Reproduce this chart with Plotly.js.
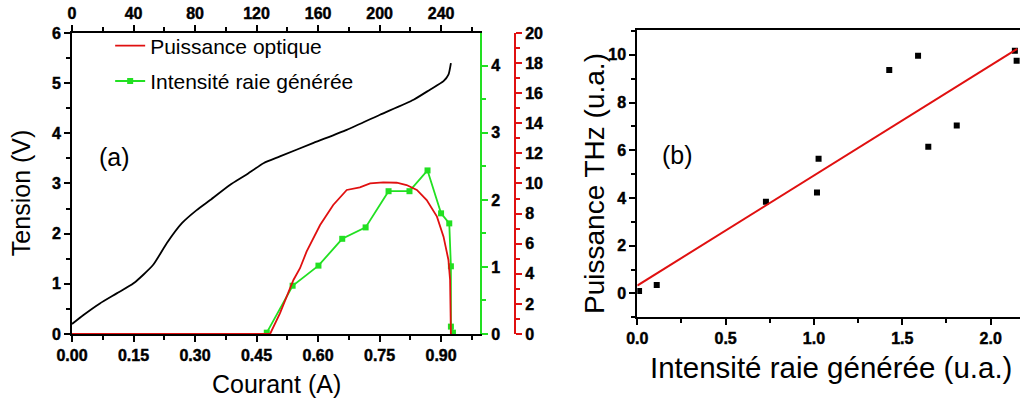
<!DOCTYPE html>
<html>
<head>
<meta charset="utf-8">
<script src="https://cdn.plot.ly/plotly-3.0.1.min.js"></script>
<style>html,body{margin:0;padding:0;background:#fff;overflow:hidden}#chart{width:1020px;height:399px}
#chart .xtick text, #chart .ytick text, #chart .x2tick text, #chart .y2tick text, #chart .y3tick text, #chart .x3tick text, #chart .y4tick text{font-weight:bold !important;stroke:#000;stroke-width:0.45px}</style>
</head>
<body>
<div id="chart"></div>
<script>
// Panel (a): tension vs courant
const courantTension = [0, 0.028, 0.068, 0.109, 0.15, 0.198, 0.231, 0.268, 0.304, 0.337, 0.385, 0.424, 0.468, 0.507, 0.589, 0.670, 0.751, 0.833, 0.873, 0.906, 0.918, 0.924];
const tension        = [0.2, 0.38, 0.61, 0.81, 1.01, 1.38, 1.81, 2.21, 2.47, 2.67, 2.97, 3.17, 3.41, 3.54, 3.81, 4.07, 4.37, 4.67, 4.87, 5.04, 5.17, 5.40];

// Panel (a): puissance optique (red axis)
const courantPuissance = [0, 0.483, 0.507, 0.540, 0.556, 0.572, 0.605, 0.637, 0.670, 0.702, 0.727, 0.759, 0.792, 0.816, 0.841, 0.865, 0.890, 0.906, 0.918, 0.922, 0.924];
const puissanceOptique = [0, 0, 1.37, 3.59, 4.37, 5.47, 7.24, 8.57, 9.57, 9.75, 10.01, 10.08, 10.05, 9.9, 9.57, 8.9, 7.8, 6.47, 4.92, 3.59, 0];

// Panel (a): intensité raie générée (green axis)
const courantIntensite = [0.475, 0.538, 0.601, 0.659, 0.716, 0.772, 0.823, 0.867, 0.900, 0.920, 0.924, 0.924, 0.929];
const intensiteRaie    = [0.02, 0.72, 1.02, 1.42, 1.59, 2.13, 2.13, 2.44, 1.80, 1.65, 1.01, 0.11, 0.02];

// Top axis of panel (a) (secondary scale, range only)
const topAxisRange = [0, 265.3];

// Panel (b): puissance THz vs intensité
const intensiteB = [0.01, 0.11, 0.728, 1.017, 1.026, 1.426, 1.589, 1.647, 1.808, 2.137, 2.147];
const puissanceTHz = [0.1, 0.35, 3.84, 4.23, 5.64, 9.36, 9.96, 6.15, 7.04, 10.17, 9.75];

// Panel (b): linear fit endpoints
const fitX = [0, 2.15];
const fitY = [0.33, 10.25];

const RED = '#e01010';
const GREEN = '#22e022';
const FONT = 'Liberation Sans, Arial, sans-serif';
const tickFont = {family: 'Arial', size: 16, color: '#000', weight: 'bold'};

const traces = [
  {x: courantTension, y: tension, xaxis: 'x', yaxis: 'y', mode: 'lines', line: {color: '#000', width: 1.8, shape: 'spline', smoothing: 0.6}, showlegend: false, hoverinfo: 'skip'},
  {x: courantPuissance, y: puissanceOptique, xaxis: 'x', yaxis: 'y3', mode: 'lines', name: 'Puissance optique', line: {color: RED, width: 1.8}, legendgroup: 'a'},
  {x: courantIntensite, y: intensiteRaie, xaxis: 'x', yaxis: 'y2', mode: 'lines+markers', name: 'Intensité raie générée', line: {color: GREEN, width: 1.8}, marker: {symbol: 'square', size: 6, color: GREEN}, legendgroup: 'b'},
  // invisible helper so the top axis of panel (a) gets drawn
  {x: topAxisRange, y: [null, null], xaxis: 'x2', yaxis: 'y', mode: 'markers', marker: {opacity: 0}, showlegend: false, hoverinfo: 'skip'},
  {x: intensiteB, y: puissanceTHz, xaxis: 'x3', yaxis: 'y4', mode: 'markers', marker: {symbol: 'square', size: 6, color: '#000'}, showlegend: false},
  {x: fitX, y: fitY, xaxis: 'x3', yaxis: 'y4', mode: 'lines', line: {color: RED, width: 2}, showlegend: false}
];

const axBase = {showline: true, linewidth: 2, linecolor: '#000', ticks: 'outside', ticklen: 6, tickwidth: 2, tickcolor: '#000', showgrid: false, zeroline: false, tickfont: tickFont};

const ann = (text, x, y, size, angle) => ({text: text, xref: 'paper', yref: 'paper', x: x, y: y, xanchor: 'center', yanchor: 'middle', textangle: angle || 0, showarrow: false, font: {family: FONT, size: size, color: '#000'}});

const layout = {
  width: 1020, height: 399,
  margin: {l: 0, r: 0, t: 0, b: 0},
  paper_bgcolor: '#fff', plot_bgcolor: 'rgba(0,0,0,0)',
  font: {family: FONT, color: '#000'},
  xaxis: Object.assign({}, axBase, {domain: [0.0706, 0.4706], range: [0, 0.995], dtick: 0.15, tick0: 0, tickformat: '.2f', anchor: 'y', layer: 'below traces',
    minor: {dtick: 0.075, ticks: 'outside', ticklen: 4, tickwidth: 2, tickcolor: '#000'}}),
  xaxis2: Object.assign({}, axBase, {overlaying: 'x', side: 'top', anchor: 'y', range: topAxisRange, dtick: 40, tick0: 0,
    minor: {dtick: 20, ticks: 'outside', ticklen: 4, tickwidth: 2, tickcolor: '#000'}}),
  yaxis: Object.assign({}, axBase, {domain: [0.1629, 0.9173], range: [0, 6], dtick: 1, anchor: 'x', layer: 'below traces',
    minor: {dtick: 0.5, ticks: 'outside', ticklen: 4, tickwidth: 2, tickcolor: '#000'}}),
  yaxis2: Object.assign({}, axBase, {overlaying: 'y', side: 'right', anchor: 'x', range: [0, 4.49], dtick: 1, linecolor: GREEN, tickcolor: GREEN,
    minor: {dtick: 0.5, ticks: 'outside', ticklen: 4, tickwidth: 2, tickcolor: GREEN}}),
  yaxis3: Object.assign({}, axBase, {overlaying: 'y', side: 'right', anchor: 'free', position: 0.5049, range: [0, 20], dtick: 2, linecolor: RED, tickcolor: RED,
    minor: {dtick: 1, ticks: 'outside', ticklen: 4, tickwidth: 2, tickcolor: RED}}),
  xaxis3: Object.assign({}, axBase, {domain: [0.6248, 1.0], range: [0, 2.166], dtick: 0.5, tick0: 0, tickformat: '.1f', anchor: 'y4', mirror: true,
    minor: {dtick: 0.25, ticks: 'outside', ticklen: 4, tickwidth: 2, tickcolor: '#000'}}),
  yaxis4: Object.assign({}, axBase, {domain: [0.2048, 0.9248], range: [-1, 11.04], dtick: 2, tick0: 0, anchor: 'x3',
    minor: {dtick: 1, ticks: 'outside', ticklen: 4, tickwidth: 2, tickcolor: '#000'}}),
  legend: {x: 0.108, y: 0.936, xanchor: 'left', yanchor: 'top', bgcolor: 'rgba(0,0,0,0)', font: {family: FONT, size: 21, color: '#000'}, traceorder: 'grouped', tracegroupgap: 5},
  annotations: [
    ann('(a)', 0.1127, 0.6065, 25),
    ann('(b)', 0.6647, 0.6115, 25),
    ann('Tension (V)', 0.0206, 0.516, 25, -90),
    ann('Courant (A)', 0.2711, 0.0376, 25),
    ann('Puissance THz (u.a.)', 0.5833, 0.5414, 28, -90),
    ann('Intensité raie générée (u.a.)', 0.8147, 0.0777, 29.5)
  ]
};

Plotly.newPlot('chart', traces, layout, {staticPlot: true, displayModeBar: false});
</script>
</body>
</html>
